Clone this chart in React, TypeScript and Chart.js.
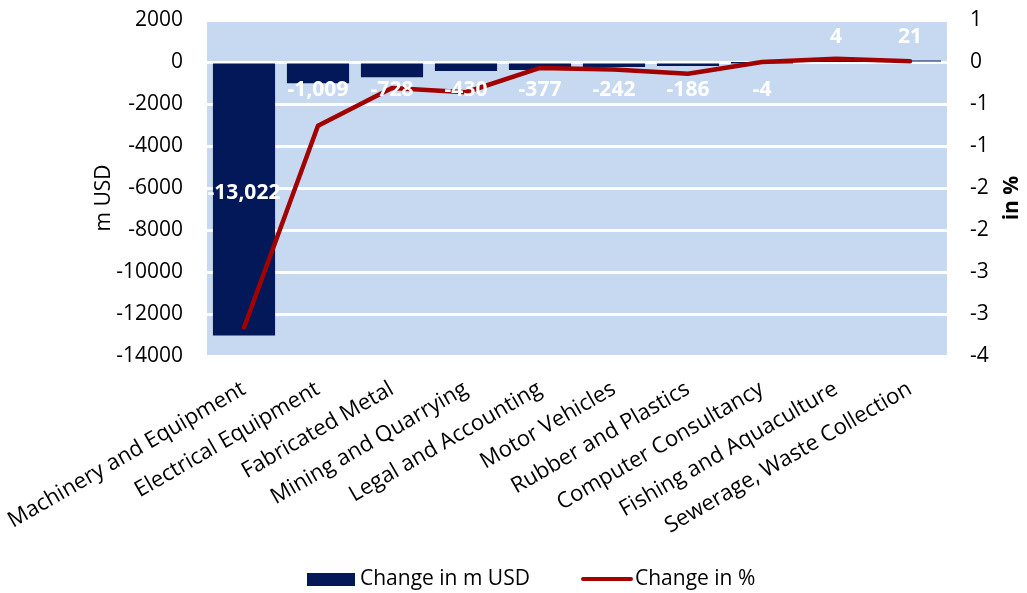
import React, { useEffect, useRef } from "react";
import { Chart, registerables } from "chart.js";

Chart.register(...registerables);

const categories = [
  "Machinery and Equipment",
  "Electrical Equipment",
  "Fabricated Metal",
  "Mining and Quarrying",
  "Legal and Accounting",
  "Motor Vehicles",
  "Rubber and Plastics",
  "Computer Consultancy",
  "Fishing and Aquaculture",
  "Sewerage, Waste Collection",
];
const changeUSD = [-13022, -1009, -728, -430, -377, -242, -186, -4, 4, 21];
const changePct = [-3.16, -0.76, -0.31, -0.36, -0.07, -0.09, -0.14, 0.0, 0.04, 0.01];

const leftTicks = { min: -14000, max: 2000, step: 2000 };
const rightTicks = { min: -3.5, max: 0.5, step: 0.5 };

const FONT = "'Open Sans', 'Liberation Sans', sans-serif";
const NAVY = "#021859";
const RED = "#A30000";
const PLOT_BG = "#C6D9F0";

function excelRound(v: number): string {
  const r = Math.sign(v) * Math.round(Math.abs(v));
  return r === 0 ? "0" : String(r);
}

function zeroPad(scale: any) {
  scale.paddingTop = 0;
  scale.paddingBottom = 0;
  scale.paddingLeft = 0;
  scale.paddingRight = 0;
}

const plotBg = {
  id: "plotBg",
  beforeDraw(chart: any) {
    const { ctx, chartArea } = chart;
    ctx.save();
    ctx.fillStyle = PLOT_BG;
    ctx.fillRect(chartArea.left, chartArea.top, chartArea.right - chartArea.left, chartArea.bottom - chartArea.top);
    ctx.restore();
  },
};

const extras = {
  id: "extras",
  afterDatasetsDraw(chart: any) {
    const { ctx, scales } = chart;
    const y = scales.y;
    const x = scales.x;
    const y0 = y.getPixelForValue(0);
    ctx.save();
    ctx.fillStyle = "#ffffff";
    ctx.font = `bold 21px ${FONT}`;
    ctx.textAlign = "center";
    ctx.textBaseline = "middle";
    changeUSD.forEach((v, i) => {
      const px = x.getPixelForValue(i);
      const yv = y.getPixelForValue(v);
      let py: number;
      if (v < 0) py = Math.max((y0 + yv) / 2 - 6, y0 + 28);
      else py = y0 - 25;
      ctx.fillText(v.toLocaleString("en-US"), px, py);
    });
    ctx.restore();
  },
  afterDraw(chart: any) {
    const { ctx, chartArea } = chart;
    const midY = (chartArea.top + chartArea.bottom) / 2;
    ctx.save();
    ctx.fillStyle = "#000";
    ctx.textAlign = "center";
    ctx.textBaseline = "middle";
    ctx.save();
    ctx.translate(104, midY + 10);
    ctx.rotate(-Math.PI / 2);
    ctx.font = `21px ${FONT}`;
    ctx.fillText("m USD", 0, 0);
    ctx.restore();
    ctx.save();
    ctx.translate(1012, midY + 10);
    ctx.rotate(-Math.PI / 2);
    ctx.font = `bold 21px ${FONT}`;
    ctx.fillText("in %", 0, 0);
    ctx.restore();
    const ly = 579;
    ctx.fillStyle = NAVY;
    ctx.fillRect(307, 573, 48, 13);
    ctx.fillStyle = "#000";
    ctx.font = `21px ${FONT}`;
    ctx.textAlign = "left";
    ctx.fillText("Change in m USD", 360, ly);
    ctx.strokeStyle = RED;
    ctx.lineWidth = 4;
    ctx.lineCap = "round";
    ctx.beginPath();
    ctx.moveTo(583, ly);
    ctx.lineTo(631, ly);
    ctx.stroke();
    ctx.fillText("Change in %", 635, ly);
    ctx.restore();
  },
};

export default function App() {
  const ref = useRef<HTMLCanvasElement | null>(null);
  useEffect(() => {
    if (!ref.current) return;
    const chart = new Chart(ref.current, {
      type: "bar",
      data: {
        labels: categories,
        datasets: [
          {
            type: "line",
            label: "Change in %",
            data: changePct,
            yAxisID: "y1",
            borderColor: RED,
            backgroundColor: RED,
            borderWidth: 4.5,
            pointRadius: 0,
            tension: 0,
            borderCapStyle: "round",
            borderJoinStyle: "round",
            order: 0,
          } as any,
          {
            type: "bar",
            label: "Change in m USD",
            data: changeUSD,
            yAxisID: "y",
            backgroundColor: NAVY,
            borderWidth: 0,
            categoryPercentage: 1,
            barPercentage: 0.84,
            order: 1,
          } as any,
        ],
      },
      options: {
        responsive: false,
        animation: false,
        maintainAspectRatio: false,
        layout: { padding: { top: 20, left: 0, right: 0, bottom: 0 } },
        plugins: {
          legend: { display: false },
          tooltip: { enabled: false },
        },
        scales: {
          x: {
            grid: { display: false, drawTicks: false },
            border: { display: false },
            ticks: {
              autoSkip: false,
              minRotation: 30,
              maxRotation: 30,
              padding: 20,
              color: "#000",
              font: { family: FONT, size: 22 },
            },
            afterFit(scale: any) {
              scale.height = 237;
              zeroPad(scale);
            },
          },
          y: {
            position: "left",
            min: leftTicks.min,
            max: leftTicks.max,
            grid: { color: "#ffffff", lineWidth: 3, drawTicks: false },
            border: { display: false },
            ticks: {
              stepSize: leftTicks.step,
              padding: 24,
              color: "#000",
              font: { family: FONT, size: 21 },
              callback: (v: any) => String(v),
            },
            afterFit(scale: any) {
              scale.width = 207;
              zeroPad(scale);
            },
          },
          y1: {
            position: "right",
            min: rightTicks.min,
            max: rightTicks.max,
            grid: { display: false, drawTicks: false },
            border: { display: false },
            ticks: {
              stepSize: rightTicks.step,
              padding: 23,
              color: "#000",
              font: { family: FONT, size: 21 },
              callback: (v: any) => excelRound(Number(v)),
            },
            afterFit(scale: any) {
              scale.width = 80;
              zeroPad(scale);
            },
          },
        },
      },
      plugins: [plotBg, extras],
    });
    return () => chart.destroy();
  }, []);
  return (
    <div style={{ position: "absolute", left: 0, top: 0, width: 1027, height: 593, background: "#fff" }}>
      <canvas ref={ref} width={1027} height={593} style={{ width: 1027, height: 593, display: "block" }} />
    </div>
  );
}
